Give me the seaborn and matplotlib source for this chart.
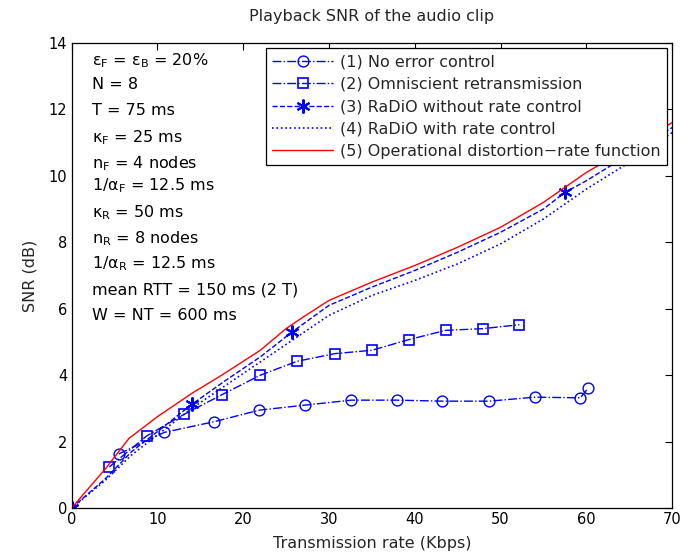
import matplotlib
matplotlib.use("Agg")
import matplotlib.pyplot as plt
import seaborn as sns

# ---- data ----
x_noerr = [5.5, 10.8, 16.6, 21.9, 27.2, 32.6, 37.9, 43.2, 48.7, 54.0, 59.3, 60.2]
y_noerr = [1.63, 2.28, 2.60, 2.95, 3.10, 3.25, 3.25, 3.22, 3.22, 3.34, 3.32, 3.61]

x_omni = [4.4, 8.8, 13.1, 17.5, 22.0, 26.3, 30.7, 35.0, 39.3, 43.6, 47.9, 52.2]
y_omni = [1.24, 2.18, 2.82, 3.41, 4.00, 4.42, 4.65, 4.75, 5.07, 5.35, 5.40, 5.52]

x_radio = [0, 4, 7, 10, 14, 18, 22, 25.7, 30, 35, 40, 45, 50, 55, 57.5, 60, 65, 70]
y_radio = [0, 0.9, 1.7, 2.3, 3.12, 3.85, 4.55, 5.3, 6.1, 6.65, 7.15, 7.7, 8.3, 9.0, 9.5, 9.85, 10.65, 11.45]
radio_marks = [0, 4, 7, 14]  # indices with star markers

x_rc = [0, 4, 7, 10, 14, 18, 22, 26, 30, 35, 40, 45, 50, 55, 60, 65, 70]
y_rc = [0, 0.85, 1.6, 2.2, 3.0, 3.7, 4.4, 5.1, 5.8, 6.4, 6.85, 7.35, 7.95, 8.7, 9.6, 10.4, 11.3]

x_odr = [0, 4, 6.7, 10, 14, 17.5, 22, 25, 27, 30, 35, 40, 45, 50, 55, 60, 65, 70]
y_odr = [0, 1.2, 2.1, 2.75, 3.45, 4.0, 4.75, 5.4, 5.75, 6.25, 6.8, 7.3, 7.85, 8.45, 9.2, 10.1, 10.85, 11.6]

labels = ["(1) No error control",
          "(2) Omniscient retransmission",
          "(3) RaDiO without rate control",
          "(4) RaDiO with rate control",
          "(5) Operational distortion\u2212rate function"]

params = [r"$\epsilon_F$ = $\epsilon_B$ = 20%",
          "N = 8",
          "T = 75 ms",
          r"$\kappa_F$ = 25 ms",
          r"n$_F$ = 4 nodes",
          r"1/$\alpha_F$ = 12.5 ms",
          r"$\kappa_R$ = 50 ms",
          r"n$_R$ = 8 nodes",
          r"1/$\alpha_R$ = 12.5 ms",
          "mean RTT = 150 ms (2 T)",
          "W = NT = 600 ms"]
param_y = [13.45, 12.76, 11.95, 11.14, 10.36, 9.70, 8.89, 8.11, 7.36, 6.55, 5.80]

title = "Playback SNR of the audio clip"
xlabel = "Transmission rate (Kbps)"
ylabel = "SNR (dB)"

# ---- style ----
sns.set_style("white")
plt.rcParams["font.family"] = ["DejaVu Sans"]
plt.rcParams["mathtext.fontset"] = "dejavusans"
plt.rcParams["mathtext.default"] = "regular"

FS = 11.5

fig = plt.figure(figsize=(6.81, 5.56), dpi=100)
ax = fig.add_axes([0.105, 0.086, 0.882, 0.837])

blue = (0, 0, 1)
red = (1, 0, 0)

sns.lineplot(x=x_noerr, y=y_noerr, ax=ax, color=blue, linestyle="-.", lw=1.0,
             marker="o", markersize=7.8, markerfacecolor="none", markeredgecolor=blue,
             markeredgewidth=1.0, label=labels[0], sort=False)
sns.lineplot(x=x_omni, y=y_omni, ax=ax, color=blue, linestyle="-.", lw=1.0,
             marker="s", markersize=7, markerfacecolor="none", markeredgecolor=blue,
             markeredgewidth=1.2, label=labels[1], sort=False)
sns.lineplot(x=x_radio, y=y_radio, ax=ax, color=blue, linestyle="--", lw=1.0,
             marker=(6, 2, 0), markersize=10, markerfacecolor=blue, markeredgecolor=blue,
             markeredgewidth=1.5, markevery=radio_marks, label=labels[2], sort=False)
sns.lineplot(x=x_rc, y=y_rc, ax=ax, color=blue, linestyle=":", lw=1.2,
             label=labels[3], sort=False)
sns.lineplot(x=x_odr, y=y_odr, ax=ax, color=red, linestyle="-", lw=1.0,
             label=labels[4], sort=False)

ax.set_xlim(0, 70)
ax.set_ylim(0, 14)
ax.set_xticks(range(0, 71, 10))
ax.set_yticks(range(0, 15, 2))
ax.tick_params(direction="in", length=5, top=True, right=True, labelsize=10.5,
               colors="black", width=0.8, pad=3)
for s in ax.spines.values():
    s.set_color("black")
    s.set_linewidth(0.9)

ax.set_title(title, fontsize=FS, pad=16)
ax.set_xlabel(xlabel, fontsize=FS, labelpad=6)
ax.set_ylabel(ylabel, fontsize=FS, labelpad=8)

for t, yy in zip(params, param_y):
    ax.text(2.4, yy, t, fontsize=FS, va="center", ha="left", color="black")

leg = ax.legend(loc="upper right", fontsize=FS, frameon=True, fancybox=False,
                framealpha=1, edgecolor="black", handlelength=3.8,
                borderaxespad=0.35, labelspacing=0.45, borderpad=0.4,
                handletextpad=0.4)
leg.get_frame().set_linewidth(0.9)

fig.savefig("out.png", dpi=100)
